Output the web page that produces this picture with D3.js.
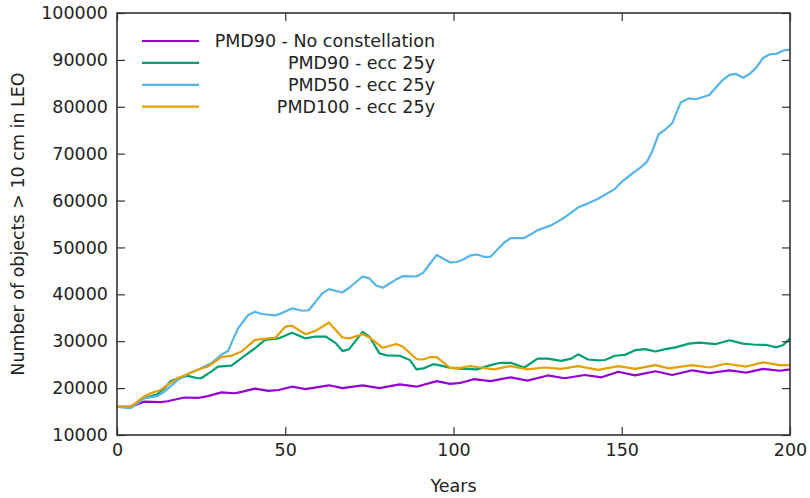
<!DOCTYPE html>
<html>
<head>
<meta charset="utf-8">
<script src="https://cdn.jsdelivr.net/npm/d3@7"></script>
<style>
  body { margin: 0; background: #fff; }
  svg text { font-family: "DejaVu Sans", sans-serif; fill: #222; }
</style>
</head>
<body>
<div id="chart"></div>
<script>
// data (years, objects > 10 cm)
var noConstYears = [0,4,8,13,15,20,24,27,31,35,37,41,45,48,52,56,63,67,73,78,84,89,95,99,102,106,111,117,122,128,133,139,144,149,152,154,160,165,171,176,182,187,192,197,200];
var noConstVals  = [16000,16000,17100,17000,17200,18000,17900,18300,19100,18900,19200,19900,19400,19600,20300,19800,20600,20000,20600,20000,20800,20300,21500,20900,21100,21900,21500,22300,21600,22700,22100,22800,22300,23500,23000,22700,23600,22800,23800,23200,23800,23300,24100,23700,24000];

var pmd90Years = [0,4,8,12,14,16,19,21,24,25,28,30,34,37,41,44,48,52,56,59,62,65,67,69,73,75,78,80,84,87,89,91,94,97,99,103,107,111,114,117,121,125,128,132,135,137,140,143,145,148,151,154,157,160,163,166,170,173,178,182,186,189,193,196,198,200];
var pmd90Vals  = [16000,16000,17900,18700,19900,21500,22300,22600,22100,22100,23500,24600,24800,26400,28500,30300,30600,31800,30600,31000,31000,29600,27900,28300,32000,31000,27400,27000,26900,26000,24000,24200,25100,24700,24300,24100,24000,24900,25400,25400,24400,26300,26300,25800,26300,27200,26100,25900,26000,26900,27100,28100,28300,27800,28300,28700,29500,29700,29400,30200,29500,29300,29200,28700,29200,30600];

var pmd50Years = [0,4,8,12,14,18,21,24,28,31,33,34,36,39,41,43,47,49,52,55,57,61,63,67,69,73,75,77,79,83,85,89,91,95,99,101,103,105,107,109,111,113,115,117,121,123,125,129,133,137,140,143,148,150,153,156,157.5,159,161,163,165,167.5,170,172,176,180,182,184,186,188,190,192,194,196,198,200];
var pmd50Vals  = [16000,15700,17800,18300,19200,21700,23000,23900,25300,27100,27900,29600,32800,35600,36300,35800,35500,36000,37000,36500,36600,40200,41100,40400,41400,43800,43400,41900,41400,43200,43900,43800,44600,48400,46800,46900,47500,48300,48500,48000,48000,49500,51000,52000,52000,52800,53700,54700,56400,58500,59400,60400,62500,64000,65700,67300,68300,70400,74200,75200,76500,80900,81800,81600,82500,85700,86800,87000,86200,87000,88400,90400,91200,91300,92000,92200];

var pmd100Years = [0,4,8,10,13,15,18,21,24,27,31,34,37,41,45,47,50,52,56,59,63,67,69,73,75,79,83,85,89,91,93,95,99,102,105,108,112,117,122,127,132,137,143,149,154,160,164,171,176,181,187,192,197,200];
var pmd100Vals  = [16000,16000,18200,18900,19600,20700,22100,23000,23900,24600,26600,26900,27800,30300,30600,30700,33100,33300,31500,32200,34000,30800,30600,31500,30800,28600,29400,28800,26200,26100,26600,26600,24300,24300,24700,24400,24000,24700,24000,24400,24100,24700,23900,24700,24100,24900,24200,24900,24400,25200,24600,25500,24900,24900];

var seriesNames  = ["PMD90 - No constellation", "PMD90 - ecc 25y", "PMD50 - ecc 25y", "PMD100 - ecc 25y"];
var seriesColors = ["#9400d3", "#009e73", "#56b4e9", "#e69f00"];
var xTicks = [0, 50, 100, 150, 200];
var yTicks = [10000, 20000, 30000, 40000, 50000, 60000, 70000, 80000, 90000, 100000];

var series = [
  {name: seriesNames[0], color: seriesColors[0], pts: d3.zip(noConstYears, noConstVals)},
  {name: seriesNames[1], color: seriesColors[1], pts: d3.zip(pmd90Years, pmd90Vals)},
  {name: seriesNames[2], color: seriesColors[2], pts: d3.zip(pmd50Years, pmd50Vals)},
  {name: seriesNames[3], color: seriesColors[3], pts: d3.zip(pmd100Years, pmd100Vals)}
];

var margin = {top: 13, right: 20, bottom: 63, left: 117};
var W = 810, H = 498;
var width = W - margin.left - margin.right;
var height = H - margin.top - margin.bottom;

var x = d3.scaleLinear().domain([0, 200]).range([0, width]);
var y = d3.scaleLinear().domain([10000, 100000]).range([height, 0]);

var svg = d3.select("#chart").append("svg")
    .attr("width", W)
    .attr("height", H)
  .append("g")
    .attr("transform", "translate(" + margin.left + "," + margin.top + ")");

var fs = "17.5px";
var tick = 8;

// lines
var line = d3.line()
    .x(function(d) { return x(d[0]); })
    .y(function(d) { return y(d[1]); });

svg.selectAll(".series")
    .data(series)
  .enter().append("path")
    .attr("class", "series")
    .attr("fill", "none")
    .attr("stroke", function(d) { return d.color; })
    .attr("stroke-width", 2.2)
    .attr("stroke-linejoin", "round")
    .attr("d", function(d) { return line(d.pts); });

// axes: ticks drawn inward, mirrored on top/right
var bottomAx = svg.append("g")
    .attr("transform", "translate(0," + height + ")")
    .call(d3.axisBottom(x).tickValues(xTicks).tickSize(-tick).tickPadding(9).tickFormat(d3.format("d")));
var topAx = svg.append("g")
    .call(d3.axisTop(x).tickValues(xTicks).tickSize(-tick).tickFormat(""));
var leftAx = svg.append("g")
    .call(d3.axisLeft(y).tickValues(yTicks).tickSize(-tick).tickPadding(9).tickFormat(d3.format("d")));
var rightAx = svg.append("g")
    .attr("transform", "translate(" + width + ",0)")
    .call(d3.axisRight(y).tickValues(yTicks).tickSize(-tick).tickFormat(""));

[bottomAx, topAx, leftAx, rightAx].forEach(function(g) {
  g.select(".domain").remove();
  g.selectAll(".tick line").attr("stroke", "#333").attr("stroke-width", 1.2);
  g.selectAll("text").style("font-size", fs).attr("fill", "#222");
});

svg.append("rect")
    .attr("width", width)
    .attr("height", height)
    .attr("fill", "none")
    .attr("stroke", "#333")
    .attr("stroke-width", 1.6);

// axis titles
svg.append("text")
    .attr("x", width / 2)
    .attr("y", height + 57)
    .attr("text-anchor", "middle")
    .style("font-size", fs)
    .text("Years");

svg.append("text")
    .attr("transform", "rotate(-90)")
    .attr("x", -height / 2)
    .attr("y", -margin.left + 24)
    .attr("text-anchor", "middle")
    .style("font-size", fs)
    .text("Number of objects > 10 cm in LEO");

// legend
var legend = svg.selectAll(".legend")
    .data(series)
  .enter().append("g")
    .attr("class", "legend")
    .attr("transform", function(d, i) { return "translate(0," + (28 + i * 21.9) + ")"; });

legend.append("line")
    .attr("x1", 25).attr("x2", 82)
    .attr("stroke", function(d) { return d.color; })
    .attr("stroke-width", 2.2);

legend.append("text")
    .attr("x", 318)
    .attr("dy", "0.35em")
    .attr("text-anchor", "end")
    .style("font-size", fs)
    .text(function(d) { return d.name; });
</script>
</body>
</html>
